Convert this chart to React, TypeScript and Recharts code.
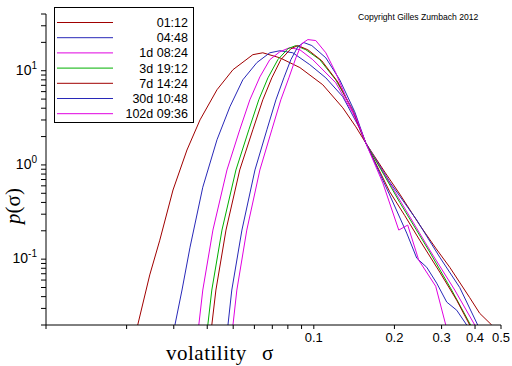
import React from "react";
import { LineChart, Line, XAxis, YAxis } from "recharts";

// sigma, p(sigma) pairs, one array per horizon
const h0112: [number, number][] = [
  [0.022, 0.02], [0.0244, 0.068], [0.0266, 0.159], [0.0298, 0.542], [0.0336, 1.44],
  [0.0376, 3.01], [0.0435, 6.28], [0.0499, 10.25], [0.0592, 14.8], [0.0645, 15.5],
  [0.0747, 13.7], [0.0887, 10.8], [0.108, 7.1], [0.1283, 4.04], [0.1435, 2.54],
  [0.1563, 1.71], [0.1841, 0.84], [0.2094, 0.49], [0.2486, 0.23], [0.2852, 0.131],
  [0.3218, 0.082], [0.3821, 0.039], [0.4164, 0.0266], [0.4616, 0.02],
];
const h0448: [number, number][] = [
  [0.0303, 0.02], [0.0322, 0.047], [0.0345, 0.134], [0.0385, 0.58], [0.0435, 1.85],
  [0.0486, 4.14], [0.0543, 8.0], [0.0613, 12.2], [0.0685, 15.5], [0.0747, 16.3],
  [0.0835, 15.5], [0.0966, 11.6], [0.1109, 8.4], [0.1283, 5.3], [0.1472, 2.54],
  [0.1563, 1.71], [0.192, 0.66], [0.2423, 0.26], [0.2952, 0.105], [0.3506, 0.05],
  [0.4093, 0.02],
];
const h1d0824: [number, number][] = [
  [0.0372, 0.02], [0.0385, 0.047], [0.042, 0.2035], [0.0474, 0.885], [0.0529, 2.36],
  [0.0577, 4.91], [0.0629, 8.6], [0.0685, 13.1], [0.0747, 15.9], [0.0814, 17.6],
  [0.0887, 16.7], [0.0991, 13.1], [0.1208, 7.45], [0.1398, 3.57], [0.1563, 1.71],
  [0.2094, 0.424], [0.2709, 0.125], [0.336, 0.047], [0.399, 0.02],
];
const h3d1912: [number, number][] = [
  [0.0402, 0.02], [0.0416, 0.047], [0.0454, 0.2035], [0.0512, 0.885], [0.0572, 2.36],
  [0.0623, 4.91], [0.0674, 8.4], [0.0734, 13.1], [0.08, 17.1], [0.0857, 18.5],
  [0.0934, 16.7], [0.1053, 13.1], [0.1208, 8.0], [0.1398, 3.85], [0.1563, 1.71],
  [0.2094, 0.4], [0.2709, 0.119], [0.327, 0.047], [0.385, 0.02],
];
const h7d1424: [number, number][] = [
  [0.0416, 0.02], [0.0431, 0.047], [0.047, 0.2035], [0.0529, 0.885], [0.0592, 2.36],
  [0.0645, 4.91], [0.0697, 8.4], [0.0753, 13.1], [0.0821, 17.1], [0.0872, 18.5],
  [0.095, 16.7], [0.107, 12.8], [0.1229, 7.6], [0.141, 3.57], [0.1563, 1.71],
  [0.192, 0.52], [0.2186, 0.29], [0.2486, 0.159], [0.2952, 0.073], [0.3417, 0.0366],
  [0.3821, 0.02],
];
const h30d1048: [number, number][] = [
  [0.0478, 0.02], [0.0494, 0.047], [0.0539, 0.2035], [0.0603, 0.885], [0.0668, 2.36],
  [0.0722, 4.91], [0.0773, 8.4], [0.0821, 13.1], [0.0872, 18.0], [0.0918, 19.9],
  [0.0983, 18.5], [0.1109, 13.7], [0.125, 8.0], [0.1422, 3.66], [0.1563, 1.71],
  [0.192, 0.48], [0.2223, 0.189], [0.2423, 0.1025], [0.264, 0.082], [0.2877, 0.0556],
  [0.3136, 0.035], [0.3417, 0.0287], [0.3723, 0.02],
];
const h102d0936: [number, number][] = [
  [0.0499, 0.02], [0.0516, 0.047], [0.0562, 0.2035], [0.0629, 0.885], [0.0697, 2.36],
  [0.0753, 4.91], [0.0807, 8.4], [0.0857, 13.7], [0.0902, 19.4], [0.095, 21.4],
  [0.1017, 20.9], [0.1109, 15.5], [0.1208, 9.5], [0.1316, 5.3], [0.1435, 3.24],
  [0.1563, 1.71], [0.181, 0.644], [0.2076, 0.2035], [0.2242, 0.23], [0.2465, 0.0976],
  [0.2852, 0.0516], [0.311, 0.02],
];

const seriesNames = ["01:12", "04:48", "1d 08:24", "3d 19:12", "7d 14:24", "30d 10:48", "102d 09:36"];
const seriesData = [h0112, h0448, h1d0824, h3d1912, h7d1424, h30d1048, h102d0936];
const seriesColors = ["#a00000", "#2828b8", "#e000e0", "#00b000", "#a00000", "#2828b8", "#e000e0"];

const xTicks = [0.01, 0.02, 0.03, 0.04, 0.05, 0.06, 0.07, 0.08, 0.09, 0.1, 0.2, 0.3, 0.4, 0.5];
const xTickLabels = ["0.1", "0.2", "0.3", "0.4", "0.5"];
const yTicks = [
  0.02, 0.03, 0.04, 0.05, 0.06, 0.07, 0.08, 0.09,
  0.1, 0.2, 0.3, 0.4, 0.5, 0.6, 0.7, 0.8, 0.9,
  1, 2, 3, 4, 5, 6, 7, 8, 9, 10, 20, 30, 40,
];
const yDecades: Record<string, string> = { "0.1": "-1", "1": "0", "10": "1" };

const sans = "'Liberation Sans', Arial, sans-serif";
const serif = "'Liberation Serif', 'Times New Roman', serif";

const XTick = ({ x, y, payload }: any) => {
  const label = String(payload.value);
  if (!xTickLabels.includes(label)) return null;
  return (
    <text x={x} y={y + 11} textAnchor="middle" fontSize={13} fontFamily={sans} fill="#000">
      {label}
    </text>
  );
};

const YTick = ({ x, y, payload }: any) => {
  const exp = yDecades[String(payload.value)];
  if (exp === undefined) return null;
  return (
    <text x={x - 2} y={y + 4} textAnchor="end" fontSize={14} fontFamily={sans} fill="#000">
      10
      <tspan dy={-6} fontSize={10}>{exp}</tspan>
    </text>
  );
};

export default function App() {
  return (
    <div style={{ position: "absolute", left: 0, top: 0, width: 512, height: 366, background: "#fff" }}>
      <LineChart width={512} height={366} margin={{ top: 14, right: 11, bottom: 11, left: 0 }}>
        <XAxis
          dataKey="s"
          type="number"
          scale="log"
          domain={[0.01, 0.5]}
          allowDataOverflow
          ticks={xTicks}
          interval={0}
          tick={<XTick />}
          tickSize={4}
          height={30}
          stroke="#000"
          tickLine={{ stroke: "#000" }}
        />
        <YAxis
          type="number"
          scale="log"
          domain={[0.02, 40]}
          allowDataOverflow
          ticks={yTicks}
          interval={0}
          tick={<YTick />}
          tickSize={5}
          width={46}
          stroke="#000"
          tickLine={{ stroke: "#000" }}
        />
        {seriesData.map((pts, i) => (
          <Line
            key={seriesNames[i]}
            name={seriesNames[i]}
            data={pts.map(([s, p]) => ({ s, p }))}
            dataKey="p"
            type="linear"
            stroke={seriesColors[i]}
            strokeWidth={1}
            dot={false}
            activeDot={false}
            isAnimationActive={false}
          />
        ))}
      </LineChart>
      <svg width={512} height={366} style={{ position: "absolute", left: 0, top: 0, pointerEvents: "none" }}>
        <rect x={54.5} y={7.5} width={139} height={115} fill="#fff" stroke="#000" strokeWidth={1} />
        {seriesNames.map((n, i) => {
          const ly = 22.5 + i * 15.2;
          return (
            <g key={n}>
              <line x1={57} x2={113} y1={ly} y2={ly} stroke={seriesColors[i]} strokeWidth={1} />
              <text x={188} y={ly + 4.5} textAnchor="end" fontSize={12.5} fontFamily={sans} fill="#000">
                {n}
              </text>
            </g>
          );
        })}
        <text x={358} y={19.5} fontSize={8.6} fontFamily={sans} fill="#000">
          Copyright Gilles Zumbach 2012
        </text>
        <text x={166} y={360} fontSize={21} fontFamily={serif} fill="#000" letterSpacing={0.5}>
          volatility
        </text>
        <text x={262} y={360} fontSize={21} fontFamily={serif} fill="#000">
          σ
        </text>
        <text
          transform="translate(20,206) rotate(-90)"
          textAnchor="middle"
          fontSize={21}
          fontFamily={serif}
          fill="#000"
        >
          <tspan fontStyle="italic">p</tspan>(σ)
        </text>
      </svg>
    </div>
  );
}
